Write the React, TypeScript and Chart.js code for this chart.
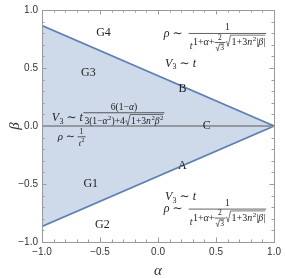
import React, { useEffect, useRef } from "react";
import { Chart, registerables } from "chart.js";

Chart.register(...registerables);

// ---- data ----
const edgeAlpha = [-1, 1];
const upperBeta = [0.866, 0];
const lowerBeta = [-0.866, 0];
const leftEdgeAlpha = [-1, -1];
const leftEdgeBeta = [-0.866, 0.866];
const zeroAlpha = [-1, 1];
const zeroBeta = [0, 0];
const tickValues = [-1, -0.5, 0, 0.5, 1];
const tickLabels = ["\u22121.0", "\u22120.5", "0.0", "0.5", "1.0"];
const regionNames = ["G4", "G3", "G1", "G2", "A", "B", "C"];
const regionAlpha = [-0.47, -0.6, -0.58, -0.48, 0.21, 0.21, 0.42];
const regionBeta = [0.8, 0.46, -0.5, -0.85, -0.34, 0.32, 0.0];
const xTitle = "α";
const yTitle = "β";

const LINE = "#5e81b5";
const FILL = "rgba(94,129,181,0.30)";
const FRAME = "#9a9a9a";
const TEXT = "#222";
const SERIF = '"Liberation Serif", "DejaVu Serif", serif';

// ---- tiny math layout ----
type N =
  | { k: "t"; s: string; z: number; i?: boolean }
  | { k: "r"; c: N[] }
  | { k: "f"; n: N; d: N; z: number }
  | { k: "p"; b: N; e: N; z: number }
  | { k: "s"; b: N; e: N; z: number }
  | { k: "q"; c: N; z: number };
type B = { w: number; a: number; d: number };

const t = (s: string, z: number, i = false): N => ({ k: "t", s, z, i });
const row = (...c: N[]): N => ({ k: "r", c });
const frac = (n: N, d: N, z: number): N => ({ k: "f", n, d, z });
const sup = (b: N, e: N, z: number): N => ({ k: "p", b, e, z });
const sub = (b: N, e: N, z: number): N => ({ k: "s", b, e, z });
const sqrt = (c: N, z: number): N => ({ k: "q", c, z });
const fnt = (z: number, i?: boolean) => `${i ? "italic " : ""}${z}px ${SERIF}`;

function measure(ctx: CanvasRenderingContext2D, n: N): B {
  switch (n.k) {
    case "t": {
      ctx.font = fnt(n.z, n.i);
      return { w: ctx.measureText(n.s).width, a: 0.68 * n.z, d: 0.2 * n.z };
    }
    case "r": {
      let w = 0, a = 0, d = 0;
      for (const c of n.c) {
        const b = measure(ctx, c);
        w += b.w; a = Math.max(a, b.a); d = Math.max(d, b.d);
      }
      return { w, a, d };
    }
    case "f": {
      const nb = measure(ctx, n.n), db = measure(ctx, n.d);
      const ax = 0.28 * n.z, g = 1.2;
      return { w: Math.max(nb.w, db.w) + 2, a: ax + g + nb.d + nb.a, d: -ax + g + db.a + db.d };
    }
    case "p": {
      const bb = measure(ctx, n.b), eb = measure(ctx, n.e);
      const r = 0.42 * n.z;
      return { w: bb.w + eb.w + 0.5, a: Math.max(bb.a, r + eb.a), d: Math.max(bb.d, eb.d - r) };
    }
    case "s": {
      const bb = measure(ctx, n.b), eb = measure(ctx, n.e);
      const r = 0.22 * n.z;
      return { w: bb.w + eb.w + 0.3, a: bb.a, d: Math.max(bb.d, eb.d + r) };
    }
    case "q": {
      const cb = measure(ctx, n.c);
      return { w: cb.w + 0.65 * n.z, a: cb.a + 1.5, d: cb.d };
    }
  }
}

function draw(ctx: CanvasRenderingContext2D, n: N, x: number, y: number) {
  switch (n.k) {
    case "t":
      ctx.font = fnt(n.z, n.i);
      ctx.fillText(n.s, x, y);
      return;
    case "r":
      for (const c of n.c) {
        draw(ctx, c, x, y);
        x += measure(ctx, c).w;
      }
      return;
    case "f": {
      const nb = measure(ctx, n.n), db = measure(ctx, n.d);
      const w = Math.max(nb.w, db.w) + 2;
      const ax = y - 0.28 * n.z, g = 1.2;
      ctx.fillRect(x, ax - 0.35, w, 0.7);
      draw(ctx, n.n, x + (w - nb.w) / 2, ax - g - nb.d);
      draw(ctx, n.d, x + (w - db.w) / 2, ax + g + db.a);
      return;
    }
    case "p": {
      const bb = measure(ctx, n.b);
      draw(ctx, n.b, x, y);
      draw(ctx, n.e, x + bb.w + 0.5, y - 0.42 * n.z);
      return;
    }
    case "s": {
      const bb = measure(ctx, n.b);
      draw(ctx, n.b, x, y);
      draw(ctx, n.e, x + bb.w + 0.3, y + 0.22 * n.z);
      return;
    }
    case "q": {
      const cb = measure(ctx, n.c);
      const z = n.z;
      const top = y - cb.a - 1;
      ctx.beginPath();
      ctx.moveTo(x + 0.05 * z, y - 0.3 * z);
      ctx.lineTo(x + 0.17 * z, y - 0.36 * z);
      ctx.lineTo(x + 0.3 * z, y + cb.d * 0.6);
      ctx.lineTo(x + 0.55 * z, top);
      ctx.lineTo(x + 0.65 * z + cb.w, top);
      ctx.lineWidth = 0.6;
      ctx.stroke();
      draw(ctx, n.c, x + 0.65 * z, y);
      return;
    }
  }
}

const rhoExp = (z: number): N =>
  row(
    t("1+", z),
    t("α", z, true),
    t("+", z),
    frac(t("2", z * 0.75), sqrt(t("3", z * 0.75), z * 0.75), z),
    sqrt(row(t("1+3", z), sup(t("n", z, true), t("2", z * 0.7), z), t("|", z), t("β", z, true), t("|", z)), z)
  );

const rhoFormula = (): N =>
  row(
    t("ρ", 12, true),
    t(" ∼  ", 12),
    frac(t("1", 9.5), sup(t("t", 10, true), rhoExp(10), 10), 12)
  );

const vtFormula = (): N => row(sub(t("V", 12, true), t("3", 8), 12), t(" ∼ ", 12), t("t", 12, true));

const ez = 9.6;
const vMid = (): N =>
  row(
    sub(t("V", 12, true), t("3", 8), 12),
    t(" ∼ ", 12),
    sup(
      t("t", 12, true),
      frac(
        row(t("6(1−", ez), t("α", ez, true), t(")", ez)),
        row(
          t("3(1−", ez),
          sup(t("α", ez, true), t("2", ez * 0.7), ez),
          t(")+4", ez),
          sqrt(row(t("1+3", ez), sup(t("n", ez, true), t("2", ez * 0.7), ez), sup(t("β", ez, true), t("2", ez * 0.7), ez)), ez)
        ),
        8
      ),
      15
    )
  );

const rhoT2 = (): N =>
  row(t("ρ", 11, true), t(" ∼ ", 11), frac(t("1", 8), sup(t("t", 8.5, true), t("2", 6), 8.5), 11));

// annotation anchors (left edge, baseline) in data coordinates
const formulas: { node: () => N; ax: number; by: number }[] = [
  { node: rhoFormula, ax: 0.05, by: 0.77 },
  { node: vtFormula, ax: 0.06, by: 0.51 },
  { node: vMid, ax: -0.915, by: 0.04 },
  { node: rhoT2, ax: -0.865, by: -0.12 },
  { node: vtFormula, ax: 0.06, by: -0.64 },
  { node: rhoFormula, ax: 0.05, by: -0.745 },
];

const overlay = {
  id: "overlay",
  afterDatasetsDraw(chart: any) {
    const ctx: CanvasRenderingContext2D = chart.ctx;
    const xs = chart.scales.x, ys = chart.scales.y;
    const { left, right, top, bottom } = chart.chartArea;
    ctx.save();
    // frame
    ctx.strokeStyle = FRAME;
    ctx.lineWidth = 1;
    ctx.strokeRect(Math.round(left) + 0.5, Math.round(top) + 0.5, Math.round(right - left), Math.round(bottom - top));
    // inner ticks
    for (let i = -10; i <= 10; i++) {
      const v = i / 10;
      const major = i % 5 === 0;
      const L = major ? 4.5 : 2.5;
      const px = Math.round(xs.getPixelForValue(v)) + 0.5;
      const py = Math.round(ys.getPixelForValue(v)) + 0.5;
      ctx.beginPath();
      ctx.moveTo(px, bottom); ctx.lineTo(px, bottom - L);
      ctx.moveTo(px, top); ctx.lineTo(px, top + L);
      ctx.moveTo(left, py); ctx.lineTo(left + L, py);
      ctx.moveTo(right, py); ctx.lineTo(right - L, py);
      ctx.stroke();
    }
    // region labels
    ctx.fillStyle = TEXT;
    ctx.textAlign = "center";
    ctx.textBaseline = "middle";
    ctx.font = `12px ${SERIF}`;
    regionNames.forEach((s, i) => {
      ctx.fillText(s, xs.getPixelForValue(regionAlpha[i]), ys.getPixelForValue(regionBeta[i]));
    });
    // axis titles
    ctx.fillStyle = "#333";
    ctx.font = `italic 15px ${SERIF}`;
    ctx.fillText(xTitle, (left + right) / 2, bottom + 29);
    ctx.save();
    ctx.translate(left - 27, (top + bottom) / 2);
    ctx.rotate(-Math.PI / 2);
    ctx.fillText(yTitle, 0, 0);
    ctx.restore();
    // formulas
    ctx.fillStyle = TEXT;
    ctx.textAlign = "left";
    ctx.textBaseline = "alphabetic";
    ctx.strokeStyle = TEXT;
    formulas.forEach((f) => {
      draw(ctx, f.node(), xs.getPixelForValue(f.ax), ys.getPixelForValue(f.by));
    });
    ctx.restore();
  },
};

export default function App() {
  const ref = useRef<HTMLCanvasElement>(null);
  useEffect(() => {
    const pts = (xs: number[], ys: number[]) => xs.map((x, i) => ({ x, y: ys[i] }));
    const chart = new Chart(ref.current!, {
      type: "line",
      data: {
        datasets: [
          { data: pts(zeroAlpha, zeroBeta), borderColor: "#5a5a5a", borderWidth: 1, pointRadius: 0, fill: false },
          { data: pts(edgeAlpha, upperBeta), borderColor: LINE, borderWidth: 1.6, pointRadius: 0, fill: "+1", backgroundColor: FILL },
          { data: pts(edgeAlpha, lowerBeta), borderColor: LINE, borderWidth: 1.6, pointRadius: 0, fill: false },
          { data: pts(leftEdgeAlpha, leftEdgeBeta), borderColor: LINE, borderWidth: 2, pointRadius: 0, fill: false },
        ],
      },
      options: {
        animation: false,
        responsive: false,
        layout: { padding: { top: 8, right: 10, left: 0, bottom: 0 } },
        plugins: { legend: { display: false }, tooltip: { enabled: false } },
        scales: {
          x: {
            type: "linear",
            min: -1,
            max: 1,
            afterBuildTicks: (s: any) => { s.ticks = tickValues.map((v) => ({ value: v })); },
            afterFit: (s: any) => { s.height = 36; },
            grid: { display: false, drawTicks: false },
            border: { display: false },
            ticks: {
              padding: 4,
              color: "#333",
              font: { family: '"Liberation Sans", sans-serif', size: 10 },
              callback: (v: any) => tickLabels[tickValues.indexOf(Number(v))] ?? "",
              maxRotation: 0,
            },
          },
          y: {
            type: "linear",
            min: -1,
            max: 1,
            afterBuildTicks: (s: any) => { s.ticks = tickValues.map((v) => ({ value: v })); },
            afterFit: (s: any) => { s.width = 42; },
            grid: { display: false, drawTicks: false },
            border: { display: false },
            ticks: {
              padding: 4,
              color: "#333",
              font: { family: '"Liberation Sans", sans-serif', size: 10 },
              callback: (v: any) => tickLabels[tickValues.indexOf(Number(v))] ?? "",
            },
          },
        },
      },
      plugins: [overlay],
    });
    return () => chart.destroy();
  }, []);
  return (
    <div style={{ position: "fixed", left: 0, top: 0, width: 285, height: 278 }}>
      <canvas ref={ref} width={285} height={278} style={{ width: 285, height: 278, display: "block" }} />
    </div>
  );
}
